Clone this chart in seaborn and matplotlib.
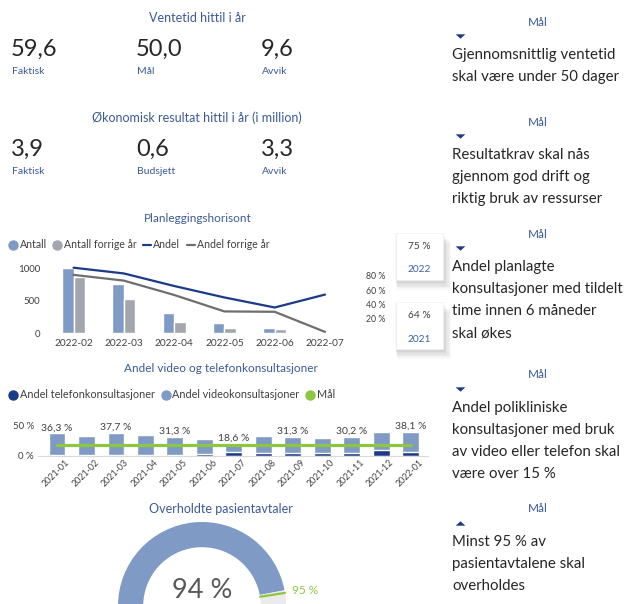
import numpy as np
import pandas as pd
import matplotlib
matplotlib.use("Agg")
import matplotlib.pyplot as plt
import seaborn as sns
from matplotlib.lines import Line2D
from matplotlib.patches import Rectangle
import matplotlib.transforms as mtransforms

# ---------------- data ----------------
kpi1_title = "Ventetid hittil i år"
kpi1_values = ["59,6", "50,0", "9,6"]
kpi1_labels = ["Faktisk", "Mål", "Avvik"]
kpi2_title = "Økonomisk resultat hittil i år (i million)"
kpi2_values = ["3,9", "0,6", "3,3"]
kpi2_labels = ["Faktisk", "Budsjett", "Avvik"]

plan_title = "Planleggingshorisont"
plan_months = ["2022-02", "2022-03", "2022-04", "2022-05", "2022-06", "2022-07"]
plan_antall = [1000, 760, 310, 165, 82, 12]
plan_antall_fj = [870, 525, 170, 78, 72, 4]
plan_andel = [0.915, 0.835, 0.66, 0.50, 0.36, 0.54]
plan_andel_fj = [0.815, 0.735, 0.535, 0.305, 0.30, 0.02]
plan_series = ["Antall", "Antall forrige år", "Andel", "Andel forrige år"]
card_values = ["75 %", "64 %"]
card_years = ["2022", "2021"]

video_title = "Andel video og telefonkonsultasjoner"
video_months = ["2021-01", "2021-02", "2021-03", "2021-04", "2021-05", "2021-06",
                "2021-07", "2021-08", "2021-09", "2021-10", "2021-11", "2021-12", "2022-01"]
video_total = [36.3, 32.2, 37.7, 33.3, 31.3, 27.0, 18.6, 33.0, 31.3, 28.7, 30.2, 39.3, 38.1]
video_telefon = [1.6, 1.6, 1.6, 1.6, 1.6, 3.2, 5.3, 4.2, 4.2, 3.7, 4.2, 9.0, 5.8]
video_goal = 18.0
video_series = ["Andel telefonkonsultasjoner", "Andel videokonsultasjoner", "Mål"]
video_label_idx = [0, 2, 4, 6, 8, 10, 12]

gauge_title = "Overholdte pasientavtaler"
gauge_value = 94
gauge_goal = 95

goal_head = "Mål"
goal_texts = [
    ["Gjennomsnittlig ventetid", "skal være under 50 dager"],
    ["Resultatkrav skal nås", "gjennom god drift og", "riktig bruk av ressurser"],
    ["Andel planlagte", "konsultasjoner med tildelt", "time innen 6 måneder", "skal økes"],
    ["Andel polikliniske", "konsultasjoner med bruk", "av video eller telefon skal", "være over 15 %"],
    ["Minst 95 % av", "pasientavtalene skal", "overholdes"],
]
goal_dirs = ["down", "down", "down", "down", "up"]

# ---------------- style ----------------
sns.set_theme(style="white")
plt.rcParams["font.family"] = ["Lato", "DejaVu Sans"]

W, H = 628, 604
BLUE_T = "#3A5A98"
NAVY = "#1B3A87"
LBLUE = "#7F9AC4"
GREY_B = "#A3A6AC"
GREY_L = "#6E6E6E"
GREEN = "#8DC63F"
TXT = "#262626"
TICK = "#404040"

fig = plt.figure(figsize=(W / 100, H / 100), dpi=100)
fig.patch.set_facecolor("white")


def fxy(x, y):
    return x / W, 1 - y / H


def add_ax(l, t, r, b):
    return fig.add_axes([l / W, 1 - b / H, (r - l) / W, (b - t) / H])


def ftext(x, y, s, **kw):
    fx, fy = fxy(x, y)
    return fig.text(fx, fy, s, **kw)


# ---------------- KPI blocks ----------------
ftext(197, 18, kpi1_title, ha="center", va="center", fontsize=9, color=BLUE_T)
for i, (v, lab) in enumerate(zip(kpi1_values, kpi1_labels)):
    x = 11 + i * 125
    ftext(x, 49, v, ha="left", va="center", fontsize=17, color=TXT)
    ftext(x + 1, 72, lab, ha="left", va="center", fontsize=7.5, color=BLUE_T)

ftext(197, 118, kpi2_title, ha="center", va="center", fontsize=9, color=BLUE_T)
for i, (v, lab) in enumerate(zip(kpi2_values, kpi2_labels)):
    x = 11 + i * 125
    ftext(x, 149, v, ha="left", va="center", fontsize=17, color=TXT)
    ftext(x + 1, 172, lab, ha="left", va="center", fontsize=7.5, color=BLUE_T)

# ---------------- Planleggingshorisont ----------------
ftext(198, 218, plan_title, ha="center", va="center", fontsize=8.5, color=BLUE_T)
ax1 = add_ax(45, 261.6, 363, 333.3)
df_plan = pd.DataFrame({
    "month": plan_months * 2,
    "value": plan_antall + plan_antall_fj,
    "series": [plan_series[0]] * 6 + [plan_series[1]] * 6,
})
sns.barplot(data=df_plan, x="month", y="value", hue="series", ax=ax1,
            palette=[LBLUE, GREY_B], width=0.46, legend=False, saturation=1)
ax1.set_xlim(-0.567, 5.756)
ax1.set_ylim(0, 1103)
ax1.set_yticks([0, 500, 1000])
ax1.set_yticklabels(["0", "500", "1000"])
ax1.set_xlabel("")
ax1.set_ylabel("")
ax1.tick_params(axis="both", length=0, labelsize=7, colors=TICK)
ax1.tick_params(axis="x", pad=4, labelsize=7.3)
for s in ax1.spines.values():
    s.set_visible(False)

ax1b = ax1.twinx()
df_line = pd.DataFrame({
    "x": list(range(6)) * 2,
    "andel": plan_andel + plan_andel_fj,
    "series": [plan_series[2]] * 6 + [plan_series[3]] * 6,
})
sns.lineplot(data=df_line, x="x", y="andel", hue="series", ax=ax1b,
             palette=[NAVY, GREY_L], linewidth=1.6, legend=False)
ax1b.set_xlim(-0.567, 5.756)
ax1b.set_ylim(0, 1.0)
ax1b.set_yticks([0.2, 0.4, 0.6, 0.8])
ax1b.set_yticklabels(["20 %", "40 %", "60 %", "80 %"])
ax1b.set_ylabel("")
ax1b.tick_params(axis="y", length=0, labelsize=6.3, colors=TICK, pad=2)
for s in ax1b.spines.values():
    s.set_visible(False)

h_plan = [
    Line2D([], [], marker="o", ls="none", color=LBLUE, markersize=6.5),
    Line2D([], [], marker="o", ls="none", color=GREY_B, markersize=6.5),
    Line2D([], [], color=NAVY, lw=1.6),
    Line2D([], [], color=GREY_L, lw=1.6),
]
fig.legend(h_plan, plan_series, loc="center left", bbox_to_anchor=fxy(9, 245),
           ncol=4, frameon=False, fontsize=7.6, handlelength=0.8, handletextpad=0.2,
           columnspacing=0.6, borderaxespad=0, borderpad=0, labelcolor=TICK)


# cards
def card(l, t, r, b):
    for k in range(7, 0, -1):
        fl, fb = fxy(l - 1 + k * 0.3, b + k * 1.4)
        rect = Rectangle((fl, fb), (r - l + k * 1.0) / W, (b - t) / H,
                         transform=fig.transFigure, facecolor="#000000",
                         alpha=0.028, edgecolor="none", zorder=1)
        fig.add_artist(rect)
    fl, fb = fxy(l, b)
    rect = Rectangle((fl, fb), (r - l) / W, (b - t) / H, transform=fig.transFigure,
                     facecolor="white", edgecolor="#f0f0f0", lw=0.5, zorder=2)
    fig.add_artist(rect)


card(396, 233, 443, 280)
card(396, 302, 443, 349)
for i, (v, yv) in enumerate(zip(card_values, card_years)):
    ty = 247 + i * 69
    t = ftext(419, ty, v, ha="center", va="center", fontsize=7.3, color=TICK)
    t.set_zorder(3)
    t = ftext(419, ty + 23, yv, ha="center", va="center", fontsize=7.3, color="#3A62A8")
    t.set_zorder(3)

# ---------------- Video chart ----------------
ftext(221, 368, video_title, ha="center", va="center", fontsize=8.5, color=BLUE_T)
ax2 = add_ax(38, 419, 428, 455.7)
video_video = [t - p for t, p in zip(video_total, video_telefon)]
df_v = pd.DataFrame({"month": video_months, "total": video_total,
                     "telefon": video_telefon, "video": video_video})
sns.barplot(data=df_v, x="month", y="total", ax=ax2, color=LBLUE, width=0.57,
            saturation=1)
sns.barplot(data=df_v, x="month", y="telefon", ax=ax2, color=NAVY, width=0.57,
            saturation=1)
sns.lineplot(x=np.arange(len(video_months)), y=[video_goal] * len(video_months),
             ax=ax2, color=GREEN, linewidth=2.3)
ax2.set_xlim((38 - 57) / 29.47, (428 - 57) / 29.47)
ax2.set_ylim(0, 60)
ax2.set_yticks([0, 50])
ax2.set_yticklabels(["0 %", "50 %"])
ax2.set_xlabel("")
ax2.set_ylabel("")
ax2.tick_params(axis="both", length=0, colors=TICK)
ax2.tick_params(axis="y", labelsize=7, pad=3)
ax2.tick_params(axis="x", labelsize=6.4, pad=1)
for lbl in ax2.get_xticklabels():
    lbl.set_rotation(45)
    lbl.set_ha("right")
    lbl.set_rotation_mode("anchor")
    lbl.set_transform(lbl.get_transform() +
                      mtransforms.ScaledTranslation(8 / 100, -1 / 100, fig.dpi_scale_trans))
for k, s in ax2.spines.items():
    s.set_visible(k == "bottom")
ax2.spines["bottom"].set_color("#d9d9d9")
ax2.spines["bottom"].set_linewidth(0.8)
for i in video_label_idx:
    ax2.text(i, video_total[i] + 2.0, f"{video_total[i]:.1f} %".replace(".", ","),
             ha="center", va="bottom", fontsize=7.5, color=TICK, clip_on=False)

h_vid = [
    Line2D([], [], marker="o", ls="none", color=NAVY, markersize=6.5),
    Line2D([], [], marker="o", ls="none", color=LBLUE, markersize=6.5),
    Line2D([], [], marker="o", ls="none", color=GREEN, markersize=6.5),
]
fig.legend(h_vid, video_series, loc="center left", bbox_to_anchor=fxy(9, 395),
           ncol=3, frameon=False, fontsize=7.8, handlelength=0.8, handletextpad=0.2,
           columnspacing=0.6, borderaxespad=0, borderpad=0, labelcolor=TICK)

# ---------------- Gauge ----------------
ftext(221, 509, gauge_title, ha="center", va="center", fontsize=9, color=BLUE_T)
R = 84.0
cx, cy = 202, 606
half = 100
ax3 = add_ax(cx - half, cy - half, cx + half, cy + half)
ax3.pie([gauge_value, 100 - gauge_value, 100], radius=1, startangle=180,
        counterclock=False, colors=[LBLUE, "#EBEBEB", (1, 1, 1, 0)],
        wedgeprops=dict(width=0.30, edgecolor="none"))
ang = np.deg2rad(180 - gauge_goal / 100 * 180)
ax3.plot([0.69 * np.cos(ang), 1.01 * np.cos(ang)], [0.69 * np.sin(ang), 1.01 * np.sin(ang)],
         color=GREEN, lw=1.6, solid_capstyle="butt")
ax3.text(1.07 * np.cos(ang) + 0.02, 1.07 * np.sin(ang) + 0.02, f"{gauge_goal} %", ha="left",
         va="center", fontsize=8.5, color=GREEN)
ax3.set_xlim(-half / R, half / R)
ax3.set_ylim(-half / R, half / R)
ax3.set_aspect("equal")
ax3.axis("off")
ftext(cx, 598, f"{gauge_value} %", ha="center", va="baseline", fontsize=19.5,
      color="#595959")

# ---------------- Goals column ----------------
tri_down = [(-1, 0.45), (1, 0.45), (0, -0.45)]
tri_up = [(-1, -0.45), (1, -0.45), (0, 0.45)]
heads_y = [22, 122, 234, 375, 509]
for hy, lines, d in zip(heads_y, goal_texts, goal_dirs):
    ftext(538, hy, goal_head, ha="center", va="center", fontsize=8.5, color=BLUE_T)
    tx, tyy = fxy(460, hy + 14)
    fig.add_artist(Line2D([tx], [tyy], transform=fig.transFigure, ls="none",
                          marker=tri_down if d == "down" else tri_up,
                          markersize=7, color=NAVY, markeredgewidth=0))
    for j, ln in enumerate(lines):
        ftext(452, hy + 33 + j * 22, ln, ha="left", va="center", fontsize=10.8, color=TXT)

fig.savefig("out.png", dpi=100, facecolor="white")
